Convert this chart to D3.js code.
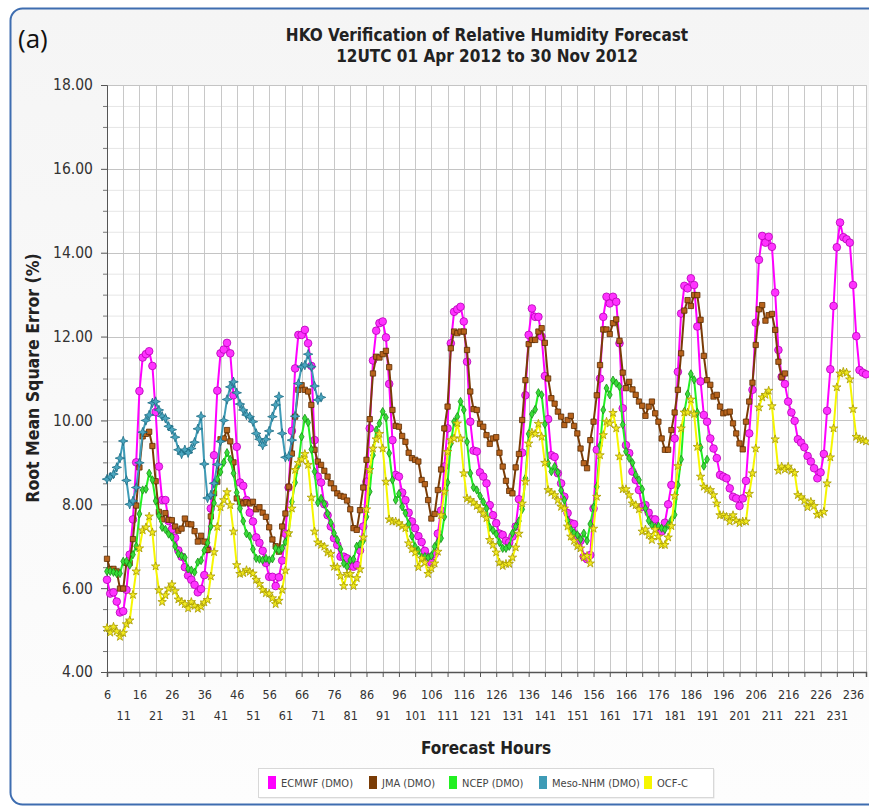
<!DOCTYPE html>
<html>
<head>
<meta charset="utf-8">
<script src="https://cdn.jsdelivr.net/npm/d3@7"></script>
<style>
  body { margin: 0; background: #ffffff; }
  text { font-family: "DejaVu Sans Condensed", "DejaVu Sans", sans-serif; }
</style>
</head>
<body>
<div class="chart"></div>
<script>
// Forecast hours run 6, 7, 8 ... one value per hour
var firstHour = 6;
var lastHour = 240;

// Root mean square error (%) per forecast hour
var ecmwf = [
  6.2, 5.87, 5.9, 5.68, 5.42, 5.45, 5.96, 6.8, 7.64, 9.0,
  10.7, 11.5, 11.58, 11.65, 11.3, 10.2, 8.9, 8.1, 8.1, 7.6,
  7.4, 7.2, 6.9, 6.75, 6.5, 6.3, 6.2, 6.08, 5.9, 5.98,
  6.31, 6.93, 7.9, 9.17, 10.71, 11.6, 11.69, 11.85, 11.6, 10.6,
  9.37, 8.52, 8.44, 8.1, 7.8, 7.59, 7.21, 7.08, 6.89, 6.6,
  6.27, 6.27, 6.05, 6.26, 6.66, 7.3, 8.4, 9.75, 11.24, 12.04,
  12.04, 12.16, 11.84, 11.3, 9.53, 8.66, 8.52, 8.0, 7.74, 7.47,
  7.19, 7.03, 6.75, 6.75, 6.71, 6.53, 6.51, 6.55, 6.9, 7.47,
  8.54, 9.81, 11.43, 12.14, 12.32, 12.36, 11.98, 10.87, 9.53, 8.7,
  8.66, 8.28, 8.1, 7.8, 7.59, 7.43, 7.24, 7.1, 6.89, 6.75,
  6.61, 6.81, 7.3, 7.85, 8.9, 9.81, 11.84, 12.59, 12.65, 12.71,
  12.36, 11.4, 9.97, 9.28, 9.26, 8.76, 8.66, 8.5, 7.98, 7.74,
  7.55, 7.3, 7.27, 7.13, 7.09, 7.23, 7.47, 8.12, 9.23, 10.6,
  12.04, 12.67, 12.47, 12.47, 12.0, 11.06, 10.03, 9.17, 9.13, 8.74,
  8.5, 8.18, 7.79, 7.55, 7.53, 7.23, 7.13, 6.75, 6.69, 6.79,
  7.9, 9.3, 11.0, 12.47, 12.95, 12.79, 12.95, 12.83, 11.84, 10.29,
  9.41, 9.22, 8.78, 8.58, 8.34, 7.94, 7.98, 7.8, 7.64, 7.64,
  7.39, 7.35, 7.56, 8.0, 8.46, 9.57, 11.16, 12.55, 13.21, 13.15,
  13.39, 13.23, 12.24, 10.93, 10.13, 9.97, 9.57, 9.33, 9.1, 8.7,
  8.66, 8.62, 8.38, 8.18, 8.14, 7.96, 8.14, 8.56, 9.69, 10.73,
  12.33, 13.83, 14.4, 14.24, 14.38, 14.14, 13.05, 11.68, 11.04, 10.87,
  10.45, 10.19, 9.99, 9.55, 9.47, 9.36, 9.15, 9.02, 8.86, 8.62,
  8.76, 9.2, 10.23, 11.22, 12.73, 14.13, 14.72, 14.37, 14.32, 14.24,
  13.23, 12.01, 11.2, 11.14, 11.1
];

var jma = [
  6.7, 6.45, 6.46, 6.4, 5.99, 5.99, 6.6, 6.6, 7.17, 7.97,
  8.88, 9.62, 9.68, 9.73, 9.39, 8.55, 7.82, 7.64, 7.79, 7.63,
  7.62, 7.47, 7.37, 7.42, 7.66, 7.53, 7.52, 7.36, 7.11, 7.25,
  7.11, 6.91, 7.71, 8.26, 8.54, 9.55, 9.57, 9.77, 9.5, 9.0,
  8.14, 8.06, 8.02, 8.05, 8.02, 8.06, 7.88, 7.93, 7.8, 7.7,
  7.45, 7.16, 7.0, 6.87, 7.47, 7.78, 8.42, 9.21, 10.09, 10.73,
  10.84, 10.73, 10.69, 10.37, 9.3, 9.02, 8.94, 8.8, 8.66, 8.5,
  8.38, 8.26, 8.2, 8.18, 8.09, 7.88, 7.43, 7.39, 7.86, 8.4,
  9.06, 10.03, 11.12, 11.52, 11.5, 11.58, 11.66, 11.27, 10.25, 9.87,
  9.85, 9.63, 9.49, 9.23, 9.1, 9.06, 9.02, 8.58, 8.48, 8.1,
  7.66, 7.77, 8.34, 8.83, 9.81, 10.33, 11.72, 12.12, 12.08, 12.12,
  12.12, 11.68, 10.69, 10.27, 10.25, 9.92, 9.85, 9.65, 9.44, 9.57,
  9.6, 9.23, 8.9, 8.56, 8.32, 8.26, 8.88, 9.2, 10.01, 10.96,
  11.82, 11.92, 11.92, 12.12, 12.2, 11.85, 11.0, 10.53, 10.4, 10.21,
  10.09, 9.89, 10.01, 10.11, 9.87, 9.69, 9.33, 8.98, 8.86, 9.53,
  9.97, 10.6, 11.32, 12.17, 12.17, 12.06, 12.32, 12.41, 11.9, 11.14,
  10.77, 10.92, 10.74, 10.61, 10.45, 10.35, 10.11, 10.33, 10.45, 10.17,
  9.97, 9.57, 9.3, 9.3, 9.77, 10.19, 10.73, 11.6, 12.62, 12.87,
  12.73, 12.99, 12.99, 12.4, 11.54, 10.96, 10.85, 10.57, 10.61, 10.33,
  10.17, 10.19, 10.21, 9.93, 9.69, 9.45, 9.31, 9.97, 10.45, 10.9,
  11.8, 12.65, 12.75, 12.38, 12.51, 12.54, 12.16, 11.4, 11.03, 11.12
];

var ncep = [
  6.4, 6.4, 6.38, 6.35, 6.35, 6.64, 6.64, 6.55, 6.8, 7.0,
  7.77, 8.34, 8.36, 8.74, 8.58, 8.08, 7.73, 7.45, 7.4, 7.29,
  7.22, 7.0, 6.82, 6.77, 6.73, 6.46, 6.43, 6.38, 6.62, 6.66,
  6.9, 7.08, 7.47, 8.03, 8.6, 8.77, 9.0, 9.23, 9.07, 8.74,
  8.28, 7.9, 7.6, 7.3, 7.24, 6.93, 6.71, 6.69, 6.67, 6.71,
  6.67, 6.7, 6.95, 6.9, 6.95, 7.1, 7.31, 8.06, 8.52, 8.94,
  9.61, 10.05, 9.95, 9.31, 8.78, 8.04, 8.14, 8.01, 7.78, 7.56,
  7.31, 7.15, 6.93, 6.59, 6.51, 6.67, 6.69, 7.0, 7.05, 7.13,
  7.7, 8.3, 9.17, 9.77, 9.93, 10.21, 10.07, 9.22, 8.58, 8.1,
  8.25, 7.94, 7.79, 7.53, 7.24, 6.99, 6.9, 6.73, 6.75, 6.73,
  6.77, 6.99, 7.09, 7.19, 7.7, 8.52, 9.45, 9.97, 10.09, 10.45,
  10.25, 9.49, 8.74, 8.4, 8.34, 8.2, 8.06, 7.9, 7.45, 7.38,
  7.29, 7.09, 6.95, 6.95, 7.0, 7.31, 7.47, 7.6, 7.88, 8.62,
  9.68, 10.15, 10.26, 10.66, 10.61, 9.91, 8.98, 8.78, 8.9, 8.76,
  8.33, 8.1, 7.61, 7.4, 7.32, 7.27, 7.16, 7.31, 7.13, 7.53,
  7.93, 8.42, 9.4, 10.25, 10.77, 10.61, 10.96, 10.89, 10.81, 9.9,
  9.26, 9.1, 8.99, 8.7, 8.58, 8.36, 7.9, 7.61, 7.5, 7.45,
  7.48, 7.43, 7.4, 7.51, 7.63, 7.75, 8.46, 9.07, 10.21, 10.63,
  11.11, 10.97, 10.19, 9.36, 8.91, 9.07
];

var mesoNhm = [
  8.6, 8.65, 8.72, 8.88, 9.1, 9.51, 8.57, 8.0, 8.08, 8.4,
  8.99, 9.72, 10.0, 10.13, 10.42, 10.45, 10.25, 10.1, 10.05, 9.86,
  9.78, 9.6, 9.3, 9.2, 9.3, 9.23, 9.33, 9.48, 9.8, 10.1,
  8.96, 8.15, 8.22, 8.5, 8.95, 9.5, 10.0, 10.5, 10.8, 10.92,
  10.66, 10.39, 10.25, 10.13, 10.09, 9.97, 9.69, 9.55, 9.41, 9.55,
  9.75, 10.09, 10.37, 10.57, 9.69, 9.12, 9.14, 9.53, 10.1, 10.88,
  11.28, 11.32, 11.58, 11.28, 10.82, 10.49, 10.55
];

var ocfC = [
  5.05, 4.94, 5.08, 4.97, 4.84, 4.93, 5.14, 5.23, 5.84, 6.4,
  6.95, 7.38, 7.45, 7.71, 7.33, 6.52, 5.95, 5.67, 5.83, 5.99,
  6.09, 5.93, 5.73, 5.67, 5.62, 5.52, 5.67, 5.58, 5.51, 5.56,
  5.66, 5.72, 6.28, 6.86, 7.46, 7.93, 8.1, 8.29, 7.98, 7.35,
  6.55, 6.34, 6.36, 6.43, 6.39, 6.35, 6.2, 6.1, 5.96, 5.88,
  5.87, 5.76, 5.62, 5.7, 5.96, 6.42, 7.31, 7.9, 8.82, 8.99,
  9.07, 9.2, 8.94, 8.16, 7.35, 7.09, 7.03, 6.99, 6.85, 6.82,
  6.51, 6.5, 6.29, 6.05, 6.34, 6.34, 6.05, 6.24, 6.45, 7.21,
  7.88, 8.82, 9.33, 9.55, 9.68, 9.33, 8.54, 7.64, 7.59, 7.59,
  7.55, 7.48, 7.43, 7.07, 6.93, 6.85, 6.5, 6.71, 6.61, 6.34,
  6.47, 6.59, 6.87, 7.74, 8.3, 9.25, 9.53, 9.57, 9.93, 9.57,
  8.74, 8.14, 8.1, 8.04, 7.96, 7.88, 7.78, 7.67, 7.15, 7.03,
  6.85, 6.61, 6.53, 6.58, 6.58, 6.73, 6.97, 7.3, 8.02, 8.54,
  9.45, 9.71, 9.68, 9.92, 9.61, 8.99, 8.34, 8.28, 8.22, 8.1,
  7.94, 7.9, 7.47, 7.23, 7.13, 7.0, 6.95, 6.73, 6.77, 6.59,
  7.42, 8.18, 9.17, 9.65, 9.97, 9.93, 10.18, 9.81, 9.14, 8.36,
  8.36, 8.22, 8.02, 7.98, 7.88, 7.35, 7.4, 7.27, 7.15, 7.4,
  7.23, 7.03, 7.03, 7.21, 7.48, 8.2, 8.91, 9.81, 10.19, 10.19,
  10.5, 10.15, 9.37, 8.66, 8.42, 8.36, 8.34, 8.22, 8.02, 7.74,
  7.74, 7.7, 7.59, 7.74, 7.61, 7.55, 7.59, 7.59, 8.25, 8.74,
  9.33, 10.31, 10.55, 10.61, 10.71, 10.34, 9.55, 8.8, 8.9, 8.83,
  8.9, 8.8, 8.75, 8.22, 8.17, 8.09, 7.93, 8.06, 7.96, 7.75,
  7.77, 7.82, 8.5, 9.12, 9.81, 10.79, 11.12, 11.16, 11.14, 10.98,
  10.27, 9.61, 9.55, 9.53, 9.5
];

var seriesNames = ["ECMWF (DMO)", "JMA (DMO)", "NCEP (DMO)", "Meso-NHM (DMO)", "OCF-C"];

// Axis ticks
var yTicks = [4, 6, 8, 10, 12, 14, 16, 18];
var xTicks = d3.range(6, 237, 5);

// Set up our chart
var svgWidth = 869;
var svgHeight = 810;

var margin = { top: 85, right: 3, bottom: 138, left: 107 };
var width = svgWidth - margin.left - margin.right;
var height = svgHeight - margin.top - margin.bottom;

var svg = d3.select(".chart")
  .append("svg")
  .attr("width", svgWidth)
  .attr("height", svgHeight);

// Panel background with the blue rounded border
var bg = svg.append("defs").append("linearGradient")
  .attr("id", "panelGrad")
  .attr("x1", 0).attr("y1", 0).attr("x2", 0).attr("y2", 1);
bg.append("stop").attr("offset", "0%").attr("stop-color", "#f5f5f5");
bg.append("stop").attr("offset", "100%").attr("stop-color", "#fdfdfd");

svg.append("rect")
  .attr("x", 10.5).attr("y", 8.5)
  .attr("width", 900).attr("height", 796)
  .attr("rx", 12)
  .attr("fill", "url(#panelGrad)")
  .attr("stroke", "#3e6db0")
  .attr("stroke-width", 2);

// Panel letter and titles
svg.append("text")
  .attr("x", 18).attr("y", 48)
  .style("font-family", "'Open Sans', sans-serif")
  .style("font-size", "26px")
  .attr("fill", "#111")
  .text("(a)");

svg.append("text")
  .attr("x", 487).attr("y", 41)
  .attr("text-anchor", "middle")
  .style("font-size", "17px").style("font-weight", "bold")
  .attr("fill", "#222")
  .text("HKO Verification of Relative Humidity Forecast");

svg.append("text")
  .attr("x", 487).attr("y", 62)
  .attr("text-anchor", "middle")
  .style("font-size", "17px").style("font-weight", "bold")
  .attr("fill", "#222")
  .text("12UTC 01 Apr 2012 to 30 Nov 2012");

var chart = svg.append("g")
  .attr("transform", "translate(" + margin.left + "," + margin.top + ")");

// Scales
var xScale = d3.scaleLinear().domain([firstHour, lastHour]).range([0, width]);
var yScale = d3.scaleLinear().domain([4, 18]).range([height, 0]);

chart.append("rect")
  .attr("width", width).attr("height", height)
  .attr("fill", "#ffffff");

// Grid: light lines every 0.5, darker at every 2, verticals every 5 hours
chart.append("g")
  .selectAll("line")
  .data(d3.range(4.5, 18, 0.5).filter(function(v) { return v % 2 !== 0; }))
  .enter()
  .append("line")
  .attr("x1", 0).attr("x2", width)
  .attr("y1", function(d) { return yScale(d) + 0.5; })
  .attr("y2", function(d) { return yScale(d) + 0.5; })
  .attr("stroke", "#e6e6e6");

chart.append("g")
  .selectAll("line")
  .data(xTicks.concat([lastHour]))
  .enter()
  .append("line")
  .attr("x1", function(d) { return Math.round(xScale(d)) + 0.5; })
  .attr("x2", function(d) { return Math.round(xScale(d)) + 0.5; })
  .attr("y1", 0).attr("y2", height)
  .attr("stroke", "#c8c8c8");

chart.append("g")
  .selectAll("line")
  .data(yTicks)
  .enter()
  .append("line")
  .attr("x1", 0).attr("x2", width)
  .attr("y1", function(d) { return Math.round(yScale(d)) + 0.5; })
  .attr("y2", function(d) { return Math.round(yScale(d)) + 0.5; })
  .attr("stroke", "#c4c4c4");

// Left axis with minor ticks every 0.5
var leftAxis = d3.axisLeft(yScale)
  .tickValues(yTicks)
  .tickFormat(d3.format(".2f"))
  .tickSize(6)
  .tickPadding(8);

var yAxisG = chart.append("g").call(leftAxis);
yAxisG.select(".domain").attr("stroke", "#555");
yAxisG.selectAll(".tick line").attr("stroke", "#555");
yAxisG.selectAll(".tick text")
  .style("font-size", "15.5px")
  .style("font-family", "'DejaVu Sans Condensed', sans-serif")
  .attr("fill", "#333");

chart.append("g")
  .selectAll("line")
  .data(d3.range(4.5, 18, 0.5).filter(function(v) { return v % 2 !== 0; }))
  .enter()
  .append("line")
  .attr("x1", -4).attr("x2", 0)
  .attr("y1", function(d) { return yScale(d) + 0.5; })
  .attr("y2", function(d) { return yScale(d) + 0.5; })
  .attr("stroke", "#777");

// Bottom axis: labels alternate between two rows
var bottomAxis = d3.axisBottom(xScale)
  .tickValues(xTicks)
  .tickFormat(d3.format("d"))
  .tickSize(5)
  .tickPadding(14);

var xAxisG = chart.append("g")
  .attr("transform", "translate(0," + height + ")")
  .call(bottomAxis);
xAxisG.select(".domain").attr("stroke", "#555").attr("stroke-width", 1.5);
xAxisG.selectAll(".tick line").attr("stroke", "#555");
xAxisG.selectAll(".tick text")
  .style("font-size", "12.5px")
  .style("font-family", "'DejaVu Sans Condensed', sans-serif")
  .attr("fill", "#333")
  .attr("y", function(d, i) { return i % 2 === 0 ? 18 : 39; });

// Axis titles
chart.append("text")
  .attr("transform", "rotate(-90)")
  .attr("x", 0 - (378 - margin.top))
  .attr("y", 33 - margin.left + 6)
  .attr("text-anchor", "middle")
  .style("font-size", "17.5px").style("font-weight", "bold")
  .attr("fill", "#222")
  .text("Root Mean Square Error (%)");

chart.append("text")
  .attr("x", 486 - margin.left)
  .attr("y", 754 - margin.top)
  .attr("text-anchor", "middle")
  .style("font-size", "17px").style("font-weight", "bold")
  .attr("fill", "#222")
  .text("Forecast Hours");

// A four pointed star for the Meso-NHM markers
var star4 = {
  draw: function(context, size) {
    var r = Math.sqrt(size) * 0.75;
    var ri = r * 0.38;
    for (var k = 0; k < 8; k++) {
      var a = k * Math.PI / 4 - Math.PI / 2;
      var rr = k % 2 === 0 ? r : ri;
      if (k === 0) context.moveTo(rr * Math.cos(a), rr * Math.sin(a));
      else context.lineTo(rr * Math.cos(a), rr * Math.sin(a));
    }
    context.closePath();
  }
};

var series = [
  { name: seriesNames[0], values: ecmwf, line: "#ff00ff", fill: "#ff33ff", stroke: "#b400b4", key: "#ff00ff", symbol: d3.symbolCircle, size: 46 },
  { name: seriesNames[1], values: jma, line: "#7a3c06", fill: "#b7631c", stroke: "#5c2c00", key: "#7a3c06", symbol: d3.symbolSquare, size: 28 },
  { name: seriesNames[2], values: ncep, line: "#22f022", fill: "#38dd38", stroke: "#169016", key: "#22f022", symbol: d3.symbolDiamond, size: 20 },
  { name: seriesNames[3], values: mesoNhm, line: "#3e9bb6", fill: "#4aa6bf", stroke: "#1d6c84", key: "#3e9bb6", symbol: star4, size: 40 },
  { name: seriesNames[4], values: ocfC, line: "#f6f600", fill: "#f2ea20", stroke: "#a89a00", key: "#f6f600", symbol: d3.symbolStar, size: 22 }
];

var lineGen = d3.line()
  .x(function(d, i) { return xScale(firstHour + i); })
  .y(function(d) { return yScale(d); });

series.forEach(function(s) {
  var g = chart.append("g");

  g.append("path")
    .datum(s.values)
    .attr("d", lineGen)
    .attr("fill", "none")
    .attr("stroke", s.line)
    .attr("stroke-width", 2)
    .attr("stroke-linejoin", "round");

  g.selectAll("path.marker")
    .data(s.values)
    .enter()
    .append("path")
    .attr("class", "marker")
    .attr("d", d3.symbol().type(s.symbol).size(s.size))
    .attr("transform", function(d, i) {
      return "translate(" + xScale(firstHour + i) + "," + yScale(d) + ")";
    })
    .attr("fill", s.fill)
    .attr("stroke", s.stroke)
    .attr("stroke-width", 0.8);
});

// Legend box under the x-axis title
var legendX = 258;
var legendY = 768;
svg.append("rect")
  .attr("x", legendX + 1.5).attr("y", legendY + 1.5)
  .attr("width", 455).attr("height", 29)
  .attr("fill", "#e4e4e4");
svg.append("rect")
  .attr("x", legendX + 0.5).attr("y", legendY + 0.5)
  .attr("width", 455).attr("height", 29)
  .attr("fill", "#ffffff")
  .attr("stroke", "#d8d8d8");

var legendOffsets = [10, 111, 191, 281, 386];
var legend = svg.append("g")
  .selectAll("g")
  .data(series)
  .enter()
  .append("g")
  .attr("transform", function(d, i) {
    return "translate(" + (legendX + legendOffsets[i]) + "," + (legendY + 8) + ")";
  });

legend.append("rect")
  .attr("width", 8).attr("height", 13)
  .attr("fill", function(d) { return d.key; });

legend.append("text")
  .attr("x", 13).attr("y", 10.5)
  .style("font-size", "11px")
  .attr("fill", "#444")
  .text(function(d) { return d.name; });
</script>
</body>
</html>
